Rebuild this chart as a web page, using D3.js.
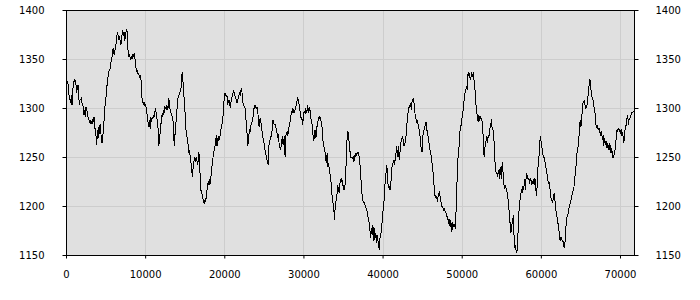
<!DOCTYPE html>
<html>
	<head>
		<meta charset="utf-8">
		<script src="https://d3js.org/d3.v7.min.js"></script>
		<style>
			body { margin: 0; background: #fff; }
			.tick text { font-family: "DejaVu Sans", sans-serif; font-size: 10px; fill: #000; }
		</style>
	</head>
	<body>
		<div id="chart"></div>
	</body>

<script>

// sample spacing on the x axis and the series values
var xStep = 84.4;
var values = [
1350,1329,1327,1325,1317,1310,1308,1305,1313,1303,1315,1325,1327,1329,1328,1323,1315,1322,1323,1312,
1303,1308,1309,1310,1305,1303,1300,1293,1298,1291,1301,1298,1296,1291,1289,1286,1288,1284,1286,1284,
1289,1286,1291,1283,1274,1271,1262,1278,1269,1281,1274,1284,1278,1266,1264,1271,1278,1288,1298,1308,
1312,1320,1327,1332,1337,1339,1340,1346,1349,1352,1359,1361,1354,1357,1363,1366,1373,1376,1374,1371,
1373,1369,1364,1368,1376,1380,1374,1378,1368,1374,1378,1380,1376,1356,1352,1354,1352,1349,1352,1351,
1354,1352,1356,1352,1346,1339,1337,1339,1334,1335,1332,1330,1334,1318,1308,1306,1305,1303,1305,1303,
1300,1295,1291,1284,1281,1288,1279,1291,1286,1291,1289,1293,1291,1295,1300,1295,1291,1284,1278,1261,
1271,
1274,1283,1288,1295,1291,1298,1295,1301,1300,1298,1303,1298,1301,1310,1301,1298,1295,1293,1291,1288,
1281,1261,1271,1281,1288,1298,1305,1312,1313,1315,1317,1318,1329,1337,1329,1318,1308,1298,1284,1274,
1271,1267,1261,1254,1257,1249,1245,1240,1230,1237,1244,1247,1250,1245,1250,1247,1242,1247,1255,1240,
1230,1216,1215,1211,1208,1204,1203,1206,1204,1210,1216,1220,1225,1221,1227,1223,1230,1237,1244,1249,
1254,1257,1261,1266,1272,1261,1269,1266,1271,1267,1274,1278,1281,1286,1291,1301,1312,1315,1313,1312,
1313,1303,1306,1308,1305,1300,1306,1310,1313,1315,1318,1315,1312,1310,1308,1305,1308,1310,1313,1315,
1312,1318,1320,1312,1305,1303,1301,1300,1291,1284,1274,1261,1266,1274,1278,1276,1283,1284,1288,1291,
1298,1301,1303,1301,
1300,1301,1298,1288,1281,1288,1289,1284,1278,1274,1269,1266,1261,1257,1254,1250,1247,1244,1242,1264,
1266,1269,1271,1274,1281,1288,1284,1283,1283,1281,1278,1274,1271,1272,1264,1261,1257,1261,1266,1271,
1262,1266,1271,1250,1271,1274,1276,1272,1276,1281,1284,1289,1293,1296,1298,1295,1298,1296,1298,1300,
1305,1308,1310,1308,1303,1298,1295,1289,1291,1283,1288,1295,1296,1295,1300,1295,1298,1303,1295,1298,
1301,1293,1288,1286,1279,1271,1266,1274,1278,1269,1274,1283,1286,1288,1291,1289,1291,1286,1283,1274,
1264,1261,1257,1254,1247,1244,1254,1240,1244,1238,1233,1230,1223,1213,1204,1203,1196,1186,1199,1203,
1210,1213,1221,1216,1213,1223,1227,1225,1228,1223,1220,1216,1218,1223,1237,1257,1271,1276,1272,1264,
1257,1250,1249,1250,
1249,1250,1245,1252,1250,1254,1252,1254,1255,1254,1250,1244,1233,1223,1213,1206,1204,1204,1204,1199,
1198,1196,1194,1189,1187,1182,1176,1167,1174,1177,1181,1164,1179,1165,1169,1172,1162,1170,1165,1160,
1155,1167,1169,1174,1182,1189,1199,1204,1215,1227,1233,1242,1237,1223,1218,1220,1216,1220,1230,1240,
1242,1245,1247,1242,1249,1254,1261,1255,1250,1261,1247,1255,1264,1266,1269,1271,1266,1261,1262,1266,
1271,1278,1291,1295,1300,1301,1303,1305,1298,1306,1308,1309,1305,1298,1291,1289,1286,1288,1284,1281,
1276,1271,1261,1259,1255,1271,1274,1278,1281,1283,1286,1278,1276,1271,1266,1262,1257,1254,1250,1244,
1238,1230,1221,1211,1210,1208,1210,1204,1210,1211,1215,1210,1206,1201,1199,1199,1196,1198,1196,1194,
1193,1191,1187,1186,
1182,1187,1179,1186,1174,1184,1176,1182,1179,1181,1177,1196,1216,1237,1250,1257,1266,1278,1281,1284,
1291,1295,1300,1308,1313,1318,1320,1322,1318,1337,1334,1335,1330,1329,1337,1332,1334,1337,1327,1322,
1312,1301,1295,1291,1286,1293,1288,1289,1291,1288,1286,1278,1264,1250,1259,1264,1267,1271,1264,1272,
1269,1276,1281,1283,1289,1278,1279,1274,1264,1247,1240,1233,1235,1230,1233,1237,1228,1240,1233,1228,
1245,1237,1227,1220,1218,1220,1218,1216,1210,1206,1198,1189,1181,1172,1179,1182,1187,1191,1162,1157,
1160,1153,1152,1162,1176,1193,1203,1208,1213,1216,1215,1220,1218,1221,1227,1216,1233,1232,1230,1227,
1228,1223,1227,1228,1221,1225,1223,1227,1221,1228,1225,1210,1216,1232,1244,1249,1261,1271,1267,1264,
1257,1252,1250,1249,
1245,1242,1237,1233,1230,1223,1225,1220,1215,1208,1206,1204,1206,1210,1213,1206,1196,1194,1189,1187,
1179,1176,1165,1167,1165,1167,1164,1165,1160,1157,1162,1176,1182,1189,1191,1193,1198,1199,1204,1206,
1208,1213,1215,1216,1223,1230,1237,1244,1254,1259,1261,1271,1283,1288,1281,1289,1298,1305,1306,1308,
1303,1300,1301,1303,1308,1317,1322,1330,1327,1318,1313,1310,1308,1303,1298,1295,1284,1281,1283,1279,
1278,1279,1276,1274,1271,1276,1267,1272,1261,1269,1266,1262,1266,1259,1264,1261,1257,1264,1261,1254,
1259,1252,1249,1250,1255,1257,1264,1271,1278,1276,1279,1278,1276,1274,1278,1272,1274,1271,1264,1269,
1278,1281,1284,1291,1293,1283,1288,1289,1291,1293,1295,1295,1296,1296
];

// tick labels
var xTicks = [0, 10000, 20000, 30000, 40000, 50000, 60000, 70000];
var yTicks = [1150, 1200, 1250, 1300, 1350, 1400];

var width = 700,
	height = 300,
	margin = {top: 10, right: 66, bottom: 45, left: 66};

var data = values.map(function(v, i) { return {x: i * xStep, y: v}; });

var x = d3.scaleLinear()
	.domain([0, 71770])
	.range([margin.left, width - margin.right]);

var y = d3.scaleLinear()
	.domain([1150, 1400])
	.range([height - margin.bottom, margin.top]);

var svg = d3.select("#chart")
	.append("svg")
	.attr("width", width)
	.attr("height", height);

// plot background
svg.append("rect")
	.attr("x", x.range()[0])
	.attr("y", y.range()[1])
	.attr("width", x.range()[1] - x.range()[0])
	.attr("height", y.range()[0] - y.range()[1])
	.attr("fill", "#e0e0e0");

// grid lines
svg.append("g")
	.selectAll("line")
	.data(xTicks.slice(1))
	.enter().append("line")
	.attr("x1", function(d) { return Math.round(x(d)) + 0.5; })
	.attr("x2", function(d) { return Math.round(x(d)) + 0.5; })
	.attr("y1", y.range()[1])
	.attr("y2", y.range()[0])
	.attr("stroke", "#cdcdcd");

svg.append("g")
	.selectAll("line")
	.data(yTicks.slice(1, -1))
	.enter().append("line")
	.attr("x1", x.range()[0])
	.attr("x2", x.range()[1])
	.attr("y1", function(d) { return Math.round(y(d)) + 0.5; })
	.attr("y2", function(d) { return Math.round(y(d)) + 0.5; })
	.attr("stroke", "#cdcdcd");

// the series, drawn without smoothing like the original
var line = d3.line()
	.x(function(d) { return x(d.x); })
	.y(function(d) { return y(d.y); });

svg.append("path")
	.datum(data)
	.attr("d", line)
	.attr("fill", "none")
	.attr("stroke", "#000")
	.attr("stroke-width", 1)
	.attr("shape-rendering", "crispEdges");

// axes
var fmt = d3.format("d");

svg.append("g")
	.attr("transform", "translate(0," + (y.range()[0] + 0.5) + ")")
	.call(d3.axisBottom(x).tickValues(xTicks).tickFormat(fmt).tickSize(3).tickPadding(12))
	.call(function(g) { g.select(".domain").remove(); });

svg.append("g")
	.attr("transform", "translate(" + (x.range()[0] + 0.5) + ",0)")
	.call(d3.axisLeft(y).tickValues(yTicks).tickFormat(fmt).tickSize(4).tickPadding(18))
	.call(function(g) { g.select(".domain").remove(); });

svg.append("g")
	.attr("transform", "translate(" + (x.range()[1] + 0.5) + ",0)")
	.call(d3.axisRight(y).tickValues(yTicks).tickFormat(fmt).tickSize(4).tickPadding(17))
	.call(function(g) { g.select(".domain").remove(); });

// frame around the plot
svg.append("rect")
	.attr("x", x.range()[0] + 0.5)
	.attr("y", y.range()[1] + 0.5)
	.attr("width", x.range()[1] - x.range()[0])
	.attr("height", y.range()[0] - y.range()[1])
	.attr("fill", "none")
	.attr("stroke", "#000");

</script>
</html>
